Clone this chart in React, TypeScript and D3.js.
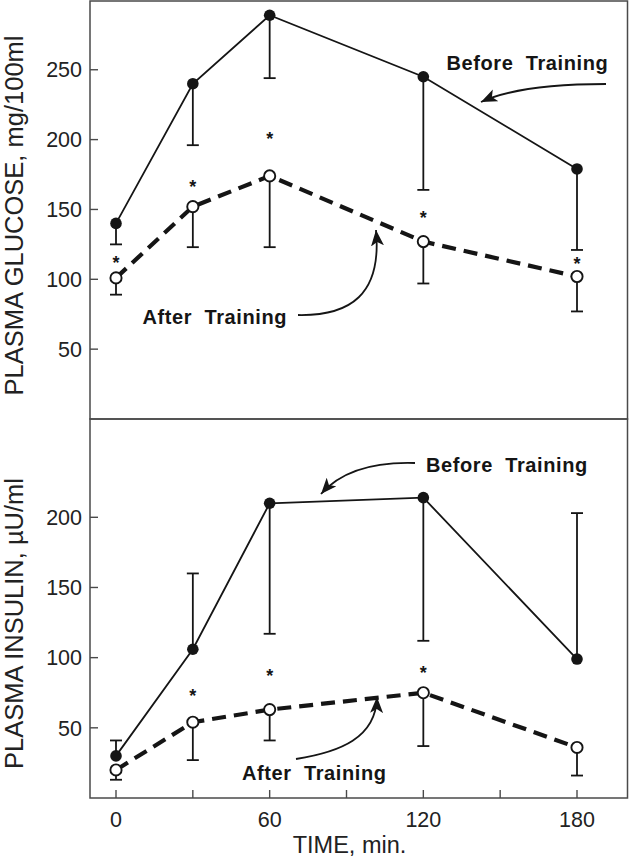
import React from "react";
import * as d3 from "d3";

// ---- data ----
const times = [0, 30, 60, 120, 180];
const xTickValues = [0, 30, 60, 90, 120, 150, 180];
const xTickLabels = ["0", "60", "120", "180"];

const glucoseBefore = [140, 240, 289, 245, 179];
const glucoseBeforeSE = [-15, -44, -45, -81, -58];
const glucoseAfter = [101, 152, 174, 127, 102];
const glucoseAfterSE = [-12, -29, -51, -30, -25];
const glucoseStars = [115, 169, 204, 147, 114];
const glucoseTicks = [50, 100, 150, 200, 250];

const insulinBefore = [30, 106, 210, 214, 99];
const insulinBeforeSE = [11, 54, -93, -102, 104];
const insulinAfter = [20, 54, 63, 75, 36];
const insulinAfterSE = [-7, -27, -22, -38, -20];
const insulinStars = [null, 76, 90, 92, null];
const insulinTicks = [50, 100, 150, 200];

const labelBefore = "Before  Training";
const labelAfter = "After  Training";
const titleGlucose = "PLASMA GLUCOSE, mg/100ml";
const titleInsulin = "PLASMA INSULIN, \u00b5U/ml";
const titleTime = "TIME, min.";

// ---- layout ----
const W = 629, H = 862;
const L = 90, R = 627.5;
const topT = 1, topB = 419, botB = 798;
const FRAME = "#4a4a4a";
const INK = "#151515";
const FONT = "'Liberation Sans', Arial, Helvetica, sans-serif";

const x = d3.scaleLinear().domain([0, 180]).range([116, 577]);
const yG = d3.scaleLinear().domain([0, 100]).range([419, 279.3]);
const yI = d3.scaleLinear().domain([0, 200]).range([798, 517.3]);

type PanelProps = {
  y: d3.ScaleLinear<number, number>;
  before: number[];
  beforeSE: number[];
  after: number[];
  afterSE: number[];
  stars: (number | null)[];
  ticks: number[];
};

function Panel({ y, before, beforeSE, after, afterSE, stars, ticks }: PanelProps) {
  const line = d3
    .line<number>()
    .x((_, i) => x(times[i]))
    .y((d) => y(d));
  return (
    <g>
      {ticks.map((t) => (
        <g key={t}>
          <line x1={L} x2={L + 8} y1={y(t)} y2={y(t)} stroke={FRAME} strokeWidth={1.4} />
          <text x={82} y={y(t)} dy="0.36em" textAnchor="end" fontSize={21.5} fill="#222" fontFamily={FONT}>
            {t}
          </text>
        </g>
      ))}
      {times.map((t, i) => {
        const e = before[i] + beforeSE[i];
        return (
          <g key={"eb" + i} stroke={INK} strokeWidth={1.8}>
            <line x1={x(t)} x2={x(t)} y1={y(before[i])} y2={y(e)} />
            <line x1={x(t) - 6} x2={x(t) + 6} y1={y(e)} y2={y(e)} />
          </g>
        );
      })}
      {times.map((t, i) => {
        const e = after[i] + afterSE[i];
        return (
          <g key={"ea" + i} stroke={INK} strokeWidth={1.8}>
            <line x1={x(t)} x2={x(t)} y1={y(after[i])} y2={y(e)} />
            <line x1={x(t) - 6} x2={x(t) + 6} y1={y(e)} y2={y(e)} />
          </g>
        );
      })}
      <path d={line(before) || ""} fill="none" stroke={INK} strokeWidth={1.8} />
      <path d={line(after) || ""} fill="none" stroke={INK} strokeWidth={4.2} strokeDasharray="14 8" />
      {times.map((t, i) => (
        <circle key={"cb" + i} cx={x(t)} cy={y(before[i])} r={5.8} fill={INK} />
      ))}
      {times.map((t, i) => (
        <circle key={"ca" + i} cx={x(t)} cy={y(after[i])} r={5.6} fill="#fff" stroke={INK} strokeWidth={1.9} />
      ))}
      {times.map((t, i) =>
        stars[i] == null ? null : (
          <text
            key={"s" + i}
            x={x(t)}
            y={y(stars[i] as number) + 10.5}
            textAnchor="middle"
            fontSize={18}
            fontWeight="bold"
            fill={INK}
            fontFamily={FONT}
          >
            *
          </text>
        )
      )}
    </g>
  );
}

function Label({ x0, y0, text }: { x0: number; y0: number; text: string }) {
  return (
    <text
      x={x0}
      y={y0}
      fontSize={20}
      fontWeight="bold"
      letterSpacing={0.6}
      fill={INK}
      fontFamily={FONT}
      style={{ whiteSpace: "pre" }}
      xmlSpace="preserve"
    >
      {text}
    </text>
  );
}

export default function App() {
  return (
    <svg width={W} height={H} style={{ position: "absolute", left: 0, top: 0, background: "#fff" }}>
      <defs>
        <marker id="ah" markerUnits="userSpaceOnUse" markerWidth={18} markerHeight={14} refX={16} refY={6.5} orient="auto">
          <path d="M0,0 L16,6.5 L0,13 L4,6.5 Z" fill={INK} />
        </marker>
      </defs>
      <rect width={W} height={H} fill="#fff" />
      <rect x={L} y={topT} width={R - L} height={topB - topT} fill="none" stroke={FRAME} strokeWidth={1.5} />
      <rect x={L} y={topB} width={R - L} height={botB - topB} fill="none" stroke={FRAME} strokeWidth={1.5} />

      <Panel
        y={yG}
        before={glucoseBefore}
        beforeSE={glucoseBeforeSE}
        after={glucoseAfter}
        afterSE={glucoseAfterSE}
        stars={glucoseStars}
        ticks={glucoseTicks}
      />
      <Panel
        y={yI}
        before={insulinBefore}
        beforeSE={insulinBeforeSE}
        after={insulinAfter}
        afterSE={insulinAfterSE}
        stars={insulinStars}
        ticks={insulinTicks}
      />

      {xTickValues.map((t) => (
        <line key={t} x1={x(t)} x2={x(t)} y1={botB} y2={botB - 8} stroke={FRAME} strokeWidth={1.4} />
      ))}
      {xTickLabels.map((s) => (
        <text key={s} x={x(+s)} y={827} textAnchor="middle" fontSize={21.5} fill="#222" fontFamily={FONT}>
          {s}
        </text>
      ))}
      <text x={349.5} y={853} textAnchor="middle" fontSize={23.5} fill="#222" fontFamily={FONT}>
        {titleTime}
      </text>
      <text transform="translate(22.5,215.5) rotate(-90)" textAnchor="middle" fontSize={25.5} fill="#222" fontFamily={FONT}>
        {titleGlucose}
      </text>
      <text transform="translate(22.5,623.5) rotate(-90)" textAnchor="middle" fontSize={25.5} fill="#222" fontFamily={FONT}>
        {titleInsulin}
      </text>

      <Label x0={446.5} y0={69.5} text={labelBefore} />
      <path d="M606,84 Q520,84 481,102" fill="none" stroke={INK} strokeWidth={1.8} markerEnd="url(#ah)" />
      <Label x0={142.5} y0={323.5} text={labelAfter} />
      <path d="M298,315 C350,316 382,295 376,230" fill="none" stroke={INK} strokeWidth={1.8} markerEnd="url(#ah)" />

      <Label x0={426} y0={471.5} text={labelBefore} />
      <path d="M415,463 Q350,461 321,494" fill="none" stroke={INK} strokeWidth={1.8} markerEnd="url(#ah)" />
      <Label x0={242} y0={780} text={labelAfter} />
      <path d="M296,759 C340,752 376,738 377,697" fill="none" stroke={INK} strokeWidth={1.8} markerEnd="url(#ah)" />
    </svg>
  );
}
